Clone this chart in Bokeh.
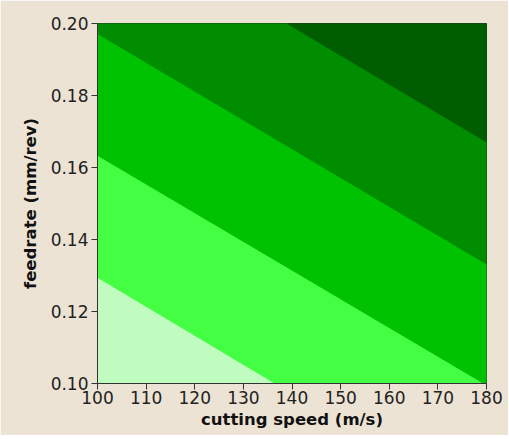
from bokeh.plotting import figure
from bokeh.models import Range1d, FixedTicker, NumeralTickFormatter
from bokeh.embed import file_html
from bokeh.resources import INLINE

# Contour boundary lines: (speed, feedrate) end points
boundary_x = [[100, 136.6], [100, 179.5], [100, 180], [139.0, 180]]
boundary_y = [[0.1295, 0.100], [0.1634, 0.100], [0.1972, 0.1332], [0.200, 0.1671]]
band_colors = ["#c0fcc0", "#44fe44", "#00c200", "#008e00", "#005e00"]

x_ticks = [100, 110, 120, 130, 140, 150, 160, 170, 180]
y_ticks = [0.10, 0.12, 0.14, 0.16, 0.18, 0.20]
x_min, x_max = 100, 180
y_min, y_max = 0.10, 0.20


def side(pt, line):
    (x0, x1), (y0, y1) = line
    return (x1 - x0) * (pt[1] - y0) - (y1 - y0) * (pt[0] - x0)


def clip(poly, line, keep_above):
    out = []
    n = len(poly)
    for i in range(n):
        a, b = poly[i], poly[(i + 1) % n]
        sa, sb = side(a, line), side(b, line)
        ina = sa >= 0 if keep_above else sa <= 0
        inb = sb >= 0 if keep_above else sb <= 0
        if ina:
            out.append(a)
        if ina != inb:
            t = sa / (sa - sb)
            out.append((a[0] + t * (b[0] - a[0]), a[1] + t * (b[1] - a[1])))
    return out


lines = [(bx, by) for bx, by in zip(boundary_x, boundary_y)]
rect = [(x_min, y_min), (x_max, y_min), (x_max, y_max), (x_min, y_max)]
xs, ys = [], []
for k in range(len(band_colors)):
    poly = rect
    if k > 0:
        poly = clip(poly, lines[k - 1], True)
    if k < len(lines):
        poly = clip(poly, lines[k], False)
    xs.append([p_[0] for p_ in poly])
    ys.append([p_[1] for p_ in poly])

p = figure(output_backend="svg", toolbar_location=None,
           frame_width=389, frame_height=360,
           min_border_left=97, min_border_top=23, min_border_right=22, min_border_bottom=52,
           x_range=Range1d(x_min, x_max), y_range=Range1d(y_min, y_max))

p.patches(xs, ys, fill_color=band_colors, line_color=band_colors, line_width=1)

bg = "#ece3d4"
p.background_fill_color = bg
p.border_fill_color = bg
p.outline_line_color = "#2a2a2a"
p.outline_line_width = 1
p.grid.visible = False

p.xaxis.ticker = FixedTicker(ticks=x_ticks)
p.yaxis.ticker = FixedTicker(ticks=y_ticks)
p.yaxis.formatter = NumeralTickFormatter(format="0.00")
p.xaxis.axis_label = "cutting speed (m/s)"
p.yaxis.axis_label = "feedrate (mm/rev)"

for ax in (p.xaxis, p.yaxis):
    ax.axis_line_color = "#333333"
    ax.major_tick_line_color = "#333333"
    ax.major_tick_out = 6
    ax.major_tick_in = 0
    ax.minor_tick_line_color = None
    ax.major_label_text_font = "DejaVu Sans"
    ax.major_label_text_font_size = "17px"
    ax.major_label_text_color = "#222222"
    ax.axis_label_text_font = "DejaVu Sans"
    ax.axis_label_text_font_size = "16.5px"
    ax.axis_label_text_font_style = "bold"
    ax.axis_label_text_color = "#111111"
p.xaxis.major_label_standoff = 1
p.yaxis.major_label_standoff = 3
p.xaxis.axis_label_standoff = 3
p.yaxis.axis_label_standoff = 8

open("out.html", "w").write(file_html(p, INLINE))
